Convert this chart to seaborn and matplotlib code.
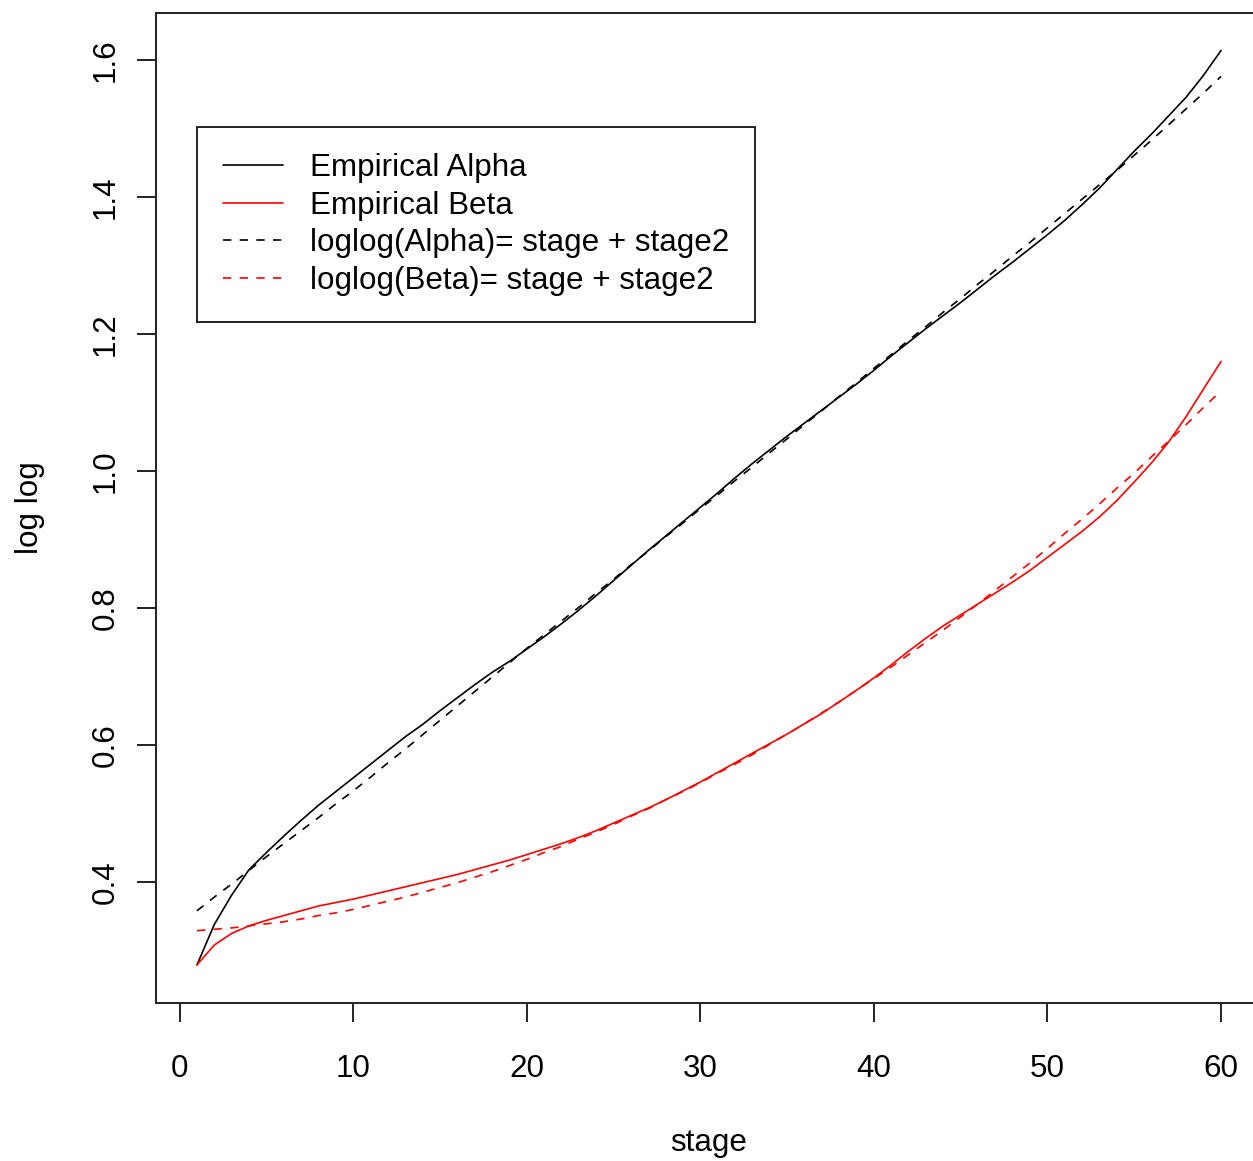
import numpy as np
import pandas as pd
import matplotlib
matplotlib.use("Agg")
import matplotlib.pyplot as plt
import seaborn as sns

# ---- data -------------------------------------------------------------
stage = list(range(1, 61))

empirical_alpha = [
    0.279, 0.338, 0.381, 0.418, 0.443, 0.467, 0.490, 0.512, 0.532, 0.552,
    0.572, 0.592, 0.612, 0.630, 0.650, 0.669, 0.688, 0.706, 0.722, 0.740,
    0.758, 0.777, 0.797, 0.818, 0.840, 0.862, 0.884, 0.905, 0.926, 0.947,
    0.968, 0.990, 1.011, 1.031, 1.051, 1.070, 1.089, 1.108, 1.127, 1.147,
    1.168, 1.188, 1.208, 1.227, 1.246, 1.266, 1.286, 1.305, 1.325, 1.345,
    1.366, 1.389, 1.413, 1.440, 1.467, 1.492, 1.519, 1.546, 1.578, 1.614,
]

empirical_beta = [
    0.279, 0.308, 0.325, 0.336, 0.344, 0.351, 0.358, 0.365, 0.370, 0.375,
    0.381, 0.387, 0.393, 0.399, 0.405, 0.411, 0.418, 0.425, 0.432, 0.440,
    0.448, 0.456, 0.465, 0.475, 0.486, 0.497, 0.508, 0.520, 0.533, 0.546,
    0.560, 0.574, 0.588, 0.602, 0.616, 0.631, 0.646, 0.663, 0.680, 0.698,
    0.717, 0.737, 0.756, 0.774, 0.790, 0.806, 0.822, 0.838, 0.855, 0.874,
    0.893, 0.912, 0.933, 0.957, 0.984, 1.012, 1.043, 1.080, 1.120, 1.160,
]

fitted_alpha = [
    0.358, 0.378, 0.397, 0.417, 0.437, 0.456, 0.475, 0.494, 0.514, 0.533,
    0.553, 0.574, 0.594, 0.615, 0.636, 0.657, 0.678, 0.699, 0.720, 0.741,
    0.761, 0.781, 0.801, 0.822, 0.842, 0.863, 0.883, 0.904, 0.924, 0.945,
    0.965, 0.986, 1.006, 1.027, 1.047, 1.068, 1.088, 1.109, 1.129, 1.150,
    1.170, 1.191, 1.211, 1.232, 1.252, 1.273, 1.293, 1.314, 1.334, 1.355,
    1.376, 1.397, 1.418, 1.439, 1.461, 1.483, 1.506, 1.529, 1.552, 1.576,
]

fitted_beta = [
    0.329, 0.331, 0.333, 0.336, 0.339, 0.342, 0.346, 0.351, 0.355, 0.360,
    0.366, 0.372, 0.378, 0.385, 0.392, 0.399, 0.407, 0.415, 0.424, 0.433,
    0.443, 0.452, 0.463, 0.473, 0.484, 0.496, 0.507, 0.520, 0.532, 0.545,
    0.559, 0.572, 0.586, 0.601, 0.616, 0.631, 0.647, 0.663, 0.680, 0.697,
    0.714, 0.732, 0.750, 0.768, 0.787, 0.806, 0.826, 0.846, 0.866, 0.887,
    0.909, 0.930, 0.952, 0.975, 0.997, 1.021, 1.044, 1.068, 1.093, 1.117,
]

labels = [
    "Empirical Alpha",
    "Empirical Beta",
    "loglog(Alpha)= stage + stage2",
    "loglog(Beta)= stage + stage2",
]
x_ticks = [0, 10, 20, 30, 40, 50, 60]
y_ticks = [0.4, 0.6, 0.8, 1.0, 1.2, 1.4, 1.6]

# ---- style ------------------------------------------------------------
sns.set_style("white")
plt.rcParams["font.family"] = ["Liberation Sans", "DejaVu Sans"]
plt.rcParams["text.color"] = "black"
plt.rcParams["axes.labelcolor"] = "black"
FS = 22.6

fig = plt.figure(figsize=(12.53, 11.61), dpi=100)
ax = fig.add_axes([0.1245, 0.1361, 0.8827, 0.8527])

df = pd.DataFrame({
    "stage": stage,
    "emp_alpha": empirical_alpha,
    "emp_beta": empirical_beta,
    "fit_alpha": fitted_alpha,
    "fit_beta": fitted_beta,
})

LW = 1.2
dash = (0, (5, 5))
sns.lineplot(data=df, x="stage", y="emp_alpha", ax=ax, color="black",
             lw=LW, estimator=None, sort=False, label=labels[0])
sns.lineplot(data=df, x="stage", y="emp_beta", ax=ax, color="#ff0000",
             lw=LW, estimator=None, sort=False, label=labels[1])
sns.lineplot(data=df, x="stage", y="fit_alpha", ax=ax, color="black",
             lw=LW, linestyle=dash, estimator=None, sort=False, label=labels[2])
sns.lineplot(data=df, x="stage", y="fit_beta", ax=ax, color="#ff0000",
             lw=LW, linestyle=dash, estimator=None, sort=False, label=labels[3])

ax.set_xlim(-1.36, 62.36)
ax.set_ylim(0.2234, 1.6686)
ax.set_xticks(x_ticks)
ax.set_xticklabels([str(v) for v in x_ticks])
ax.set_yticks(y_ticks)
ax.set_yticklabels([f"{v:.1f}" for v in y_ticks])

for sp in ax.spines.values():
    sp.set_visible(True)
    sp.set_color("#222222")
    sp.set_linewidth(1.4)

ax.tick_params(axis="both", which="major", bottom=True, left=True,
               direction="out", length=13.7, width=1.4,
               color="#222222", labelsize=FS, labelcolor="black")
ax.tick_params(axis="x", pad=23)
ax.tick_params(axis="y", pad=12)
for t in ax.get_yticklabels():
    t.set_rotation(90)
    t.set_va("center")
    t.set_ha("right")

ax.set_xlabel("stage", fontsize=FS, color="black")
ax.set_ylabel("log log", fontsize=FS, color="black")
ax.xaxis.set_label_coords(0.5, -0.1262)
ax.yaxis.set_label_coords(-0.1007, 0.5)

leg = ax.legend(
    loc="upper left", bbox_to_anchor=(0.0371, 0.8848), borderaxespad=0,
    fontsize=FS, frameon=True, fancybox=False, shadow=False,
    handlelength=1.91, handletextpad=0.86, borderpad=0.82,
    labelspacing=0.25,
)
for txt in leg.get_texts():
    txt.set_color("black")
frame = leg.get_frame()
frame.set_edgecolor("#222222")
frame.set_linewidth(1.4)
frame.set_facecolor("white")
frame.set_alpha(1)

fig.savefig("out.png", dpi=100)
